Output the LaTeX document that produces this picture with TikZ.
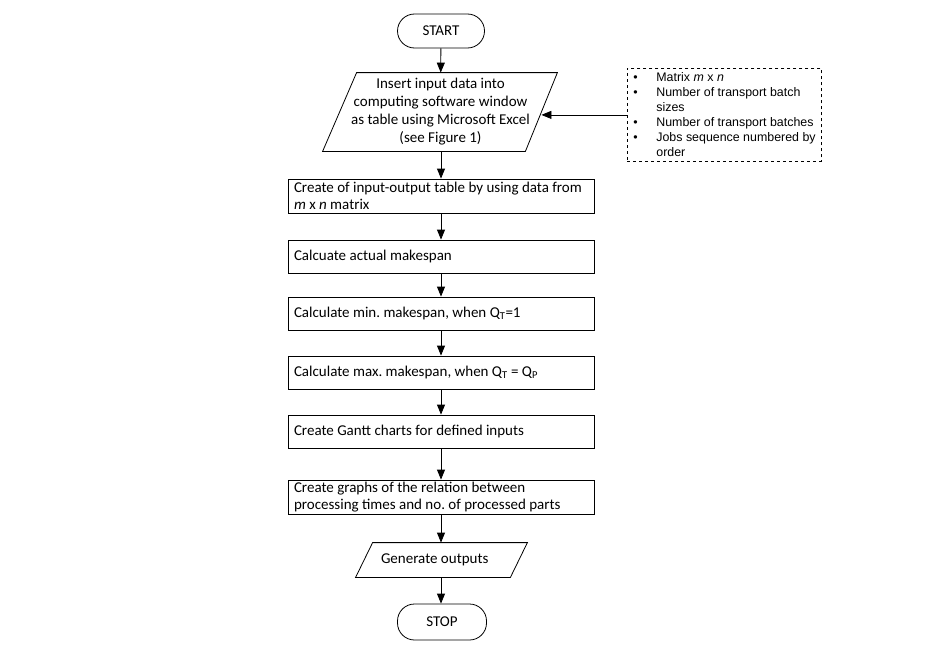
\documentclass[tikz,border=0pt]{standalone}
\usepackage{fontspec}
\setmainfont{Carlito}
\newfontfamily\arialf{Liberation Sans}
\newfontfamily\calf{Carlito}
\usetikzlibrary{arrows.meta,calc}
\frenchspacing
\begin{document}
\begin{tikzpicture}[x=1pt,y=-1pt,
  line width=0.8pt,
  normalspace/.style={execute at begin node={\spaceskip=0pt\xspaceskip=0pt}},
  mainfont/.style={font=\calf\fontsize{15}{17}\selectfont,normalspace},
  term/.style={draw,mainfont,rounded corners=17pt,minimum width=87pt,minimum height=34pt,inner sep=0pt},
  procbox/.style={draw,mainfont,minimum width=306pt,text width=294pt,inner xsep=6pt,inner ysep=0pt,align=flush left},
  ghost/.style={mainfont,inner sep=0pt},
  arr/.style={-{Triangle[length=10pt,width=8pt]}}
]
\useasboundingbox (0,0) rectangle (943,645);

\node[term] (start) at (441,31) {START};

\node[ghost,minimum width=201pt,minimum height=78pt,align=flush center,font=\calf\fontsize{15}{18}\selectfont] (in1) at (440.5,112)
  {Insert input data into\\computing software window\\as table using Microsoft Excel\\(see Figure 1)};
\draw ($(in1.north west)+(17,0)$) -- ($(in1.north east)+(16,0)$) -- ($(in1.south east)+(-16,0)$) -- ($(in1.south west)+(-17,0)$) -- cycle;

\node[draw,dashed,minimum width=194pt,minimum height=93pt,inner sep=0pt,anchor=north west] (side) at (627,68) {};
\node[anchor=north west,inner sep=0pt,align=flush left,normalspace,font=\arialf\fontsize{12.4}{15}\selectfont] (sidetext) at (633,72.5)
  {\makebox[23pt][l]{\textbullet}Matrix \textit{m} x \textit{n}\\
   \makebox[23pt][l]{\textbullet}Number of transport batch\\
   \hspace*{23pt}sizes\\
   \makebox[23pt][l]{\textbullet}Number of transport batches\\
   \makebox[23pt][l]{\textbullet}Jobs sequence numbered by\\
   \hspace*{23pt}order};

\node[procbox,minimum height=34pt] (r1) at (441,196) {Create of input-output table by using data from\\\textit{m} x \textit{n} matrix};
\node[procbox,minimum height=33pt] (r2) at (441,256.5) {Calcuate actual makespan};
\node[procbox,minimum height=33pt] (r3) at (441,313.5) {Calculate min. makespan, when Q\textsubscript{T}=1};
\node[procbox,minimum height=33pt] (r4) at (441,372.5) {Calculate max. makespan, when Q\textsubscript{T} = Q\textsubscript{P}};
\node[procbox,minimum height=33pt] (r5) at (441,431.5) {Create Gantt charts for defined inputs};
\node[procbox,minimum height=34pt] (r6) at (441,497) {Create graphs of the relation between\\processing times and no. of processed parts};

\node[ghost,minimum width=154pt,minimum height=34pt,text width=121pt,inner xsep=16.5pt,align=flush left] (out) at (441.5,560) {Generate outputs};
\draw ($(out.north west)+(8.5,0)$) -- ($(out.north east)+(8.5,0)$) -- ($(out.south east)+(-8.5,0)$) -- ($(out.south west)+(-8.5,0)$) -- cycle;

\node[term,minimum width=89pt,minimum height=36pt] (stop) at (442,622) {STOP};

\draw[arr] (start) -- (in1);
\draw[arr] (side.west) -- (side.west -| in1.east);
\draw[arr] (in1.south -| r1.north) -- (r1);
\draw[arr] (r1) -- (r2);
\draw[arr] (r2) -- (r3);
\draw[arr] (r3) -- (r4);
\draw[arr] (r4) -- (r5);
\draw[arr] (r5) -- (r6);
\draw[arr] (r6.south) -- (r6.south |- out.north);
\draw[arr] (out.south -| r6.south) -- (r6.south |- stop.north);
\end{tikzpicture}
\end{document}
